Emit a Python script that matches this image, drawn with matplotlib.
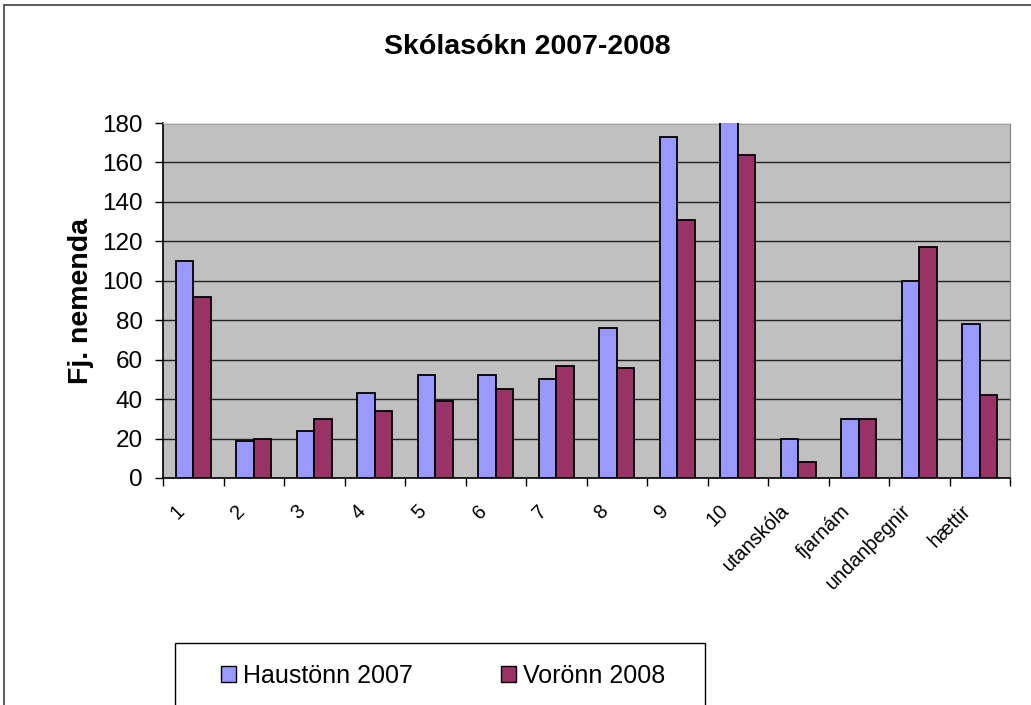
import matplotlib
matplotlib.use("Agg")
import matplotlib.pyplot as plt
import matplotlib.transforms as mtransforms
import numpy as np
from matplotlib.patches import Rectangle, Patch

# data
categories = ["1", "2", "3", "4", "5", "6", "7", "8", "9", "10",
              "utanskóla", "fjarnám", "undanþegnir", "hættir"]
haust_2007 = [110, 19, 24, 43, 52, 52, 50, 76, 173, 190, 20, 30, 100, 78]
vor_2008 = [92, 20, 30, 34, 39, 45, 57, 56, 131, 164, 8, 30, 117, 42]
yticks = [0, 20, 40, 60, 80, 100, 120, 140, 160, 180]

plt.rcParams['font.family'] = ['Liberation Sans', 'DejaVu Sans']

W, H = 1031, 705
fig = plt.figure(figsize=(W / 100, H / 100), dpi=100)
fig.patch.set_facecolor('white')

# outer chart frame (only left and top edges are inside the picture)
fig.patches.append(Rectangle((4 / W, -0.1), 1.2, 1 - 5 / H + 0.1,
                             transform=fig.transFigure, fill=False,
                             edgecolor='#404040', linewidth=1.2))

ax = fig.add_axes([163 / W, 1 - 478 / H, (1010 - 163) / W, (478 - 123) / H])
ax.set_facecolor('#C0C0C0')

x = np.arange(len(categories))
w = 0.286
ax.bar(x - w / 2, haust_2007, w, color='#9999FF', edgecolor='black',
       linewidth=1.3, zorder=3)
ax.bar(x + w / 2, vor_2008, w, color='#993366', edgecolor='black',
       linewidth=1.3, zorder=3)

ax.set_xlim(-0.5, len(categories) - 0.5)
ax.set_ylim(0, 180)
ax.set_yticks(yticks)
ax.set_yticklabels([str(v) for v in yticks], fontsize=17.5)
ax.yaxis.grid(True, color='#202020', linewidth=1.0, zorder=1)
ax.set_axisbelow(True)

# category ticks sit on the boundaries, labels at the centres
ax.set_xticks(np.arange(len(categories) + 1) - 0.5)
ax.set_xticklabels([])
ax.set_xticks(x, minor=True)
ax.set_xticklabels(categories, minor=True, rotation=45, ha='right',
                   va='center', rotation_mode='anchor', fontsize=14.3)
ax.tick_params(axis='x', which='minor', length=0, pad=21.5)
ax.tick_params(axis='x', which='major', length=6, width=1, direction='out')
ax.tick_params(axis='y', length=6, width=1, direction='out', pad=8.5)

shift = mtransforms.ScaledTranslation(-12 / 100, 0, fig.dpi_scale_trans)
for lab in ax.get_xticklabels(minor=True):
    lab.set_transform(lab.get_transform() + shift)

for side in ['left', 'bottom']:
    ax.spines[side].set_color('black')
    ax.spines[side].set_linewidth(1.2)
ax.spines['right'].set_color('#808080')
ax.spines['top'].set_color('#D8D8D8')

ax.set_ylabel('Fj. nemenda', fontsize=20.5, fontweight='bold', labelpad=6)
fig.text(527 / W, 1 - 47 / H, 'Skólasókn 2007-2008', ha='center',
         va='center', fontsize=20.5, fontweight='bold')

# legend box, cut off at the bottom edge
fig.patches.append(Rectangle((175 / W, -0.05), (705 - 175) / W,
                             0.05 + 1 - 643 / H, transform=fig.transFigure,
                             fill=False, edgecolor='black', linewidth=1.0))
handles = [Patch(facecolor='#9999FF', edgecolor='black', label='Haustönn 2007'),
           Patch(facecolor='#993366', edgecolor='black', label='Vorönn 2008')]
fig.legend(handles=handles, loc='center', bbox_to_anchor=(443 / W, 1 - 676 / H),
           ncol=2, frameon=False, fontsize=18, handlelength=0.6,
           handleheight=0.6, handletextpad=0.3, columnspacing=3.5)

fig.savefig('out.png', dpi=100)
